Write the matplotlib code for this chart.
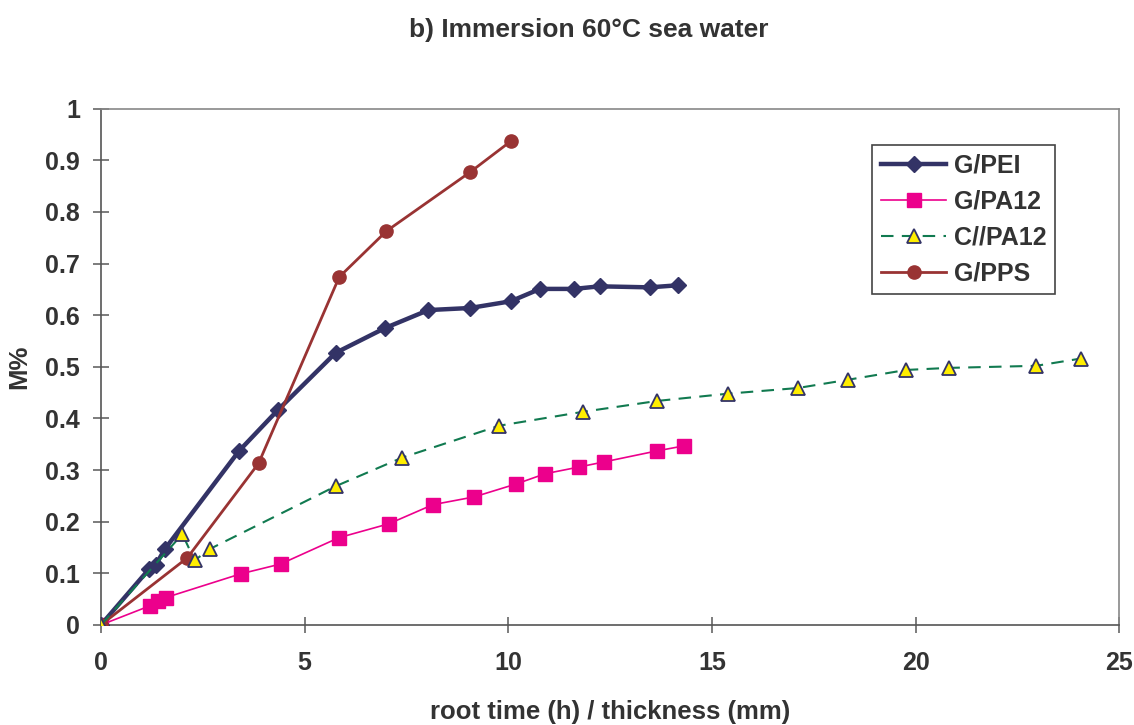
import numpy as np
import matplotlib
matplotlib.use("Agg")
import matplotlib.pyplot as plt

plt.rcParams['font.family'] = ['Liberation Sans', 'DejaVu Sans']

# G/PEI
pei_x = [0, 1.19, 1.35, 1.57, 3.39, 4.34, 5.76, 6.97, 8.04, 9.06, 10.06, 10.78, 11.62, 12.24, 13.47, 14.16]
pei_y = [0, 0.109, 0.117, 0.147, 0.337, 0.416, 0.527, 0.575, 0.610, 0.614, 0.627, 0.651, 0.651, 0.656, 0.654, 0.658]

# G/PA12
pa_x = [0, 1.20, 1.39, 1.59, 3.43, 4.41, 5.84, 7.07, 8.15, 9.16, 10.19, 10.91, 11.74, 12.36, 13.64, 14.32]
pa_y = [0, 0.037, 0.047, 0.053, 0.099, 0.118, 0.169, 0.196, 0.233, 0.248, 0.273, 0.293, 0.306, 0.316, 0.337, 0.347]

# C//PA12
cpa_x = [0, 2.00, 2.30, 2.67, 5.77, 7.39, 9.78, 11.84, 13.66, 15.39, 17.11, 18.34, 19.77, 20.82, 22.96, 24.05]
cpa_y = [0, 0.176, 0.125, 0.147, 0.269, 0.324, 0.386, 0.413, 0.434, 0.448, 0.459, 0.475, 0.494, 0.498, 0.502, 0.516]

# G/PPS
pps_x = [0, 2.12, 3.87, 5.85, 7.01, 9.06, 10.06]
pps_y = [0, 0.130, 0.313, 0.674, 0.763, 0.877, 0.937]

txt = '#333333'

fig = plt.figure(figsize=(11.34, 7.25), dpi=100)
ax = fig.add_axes([0.089, 0.138, 0.898, 0.712])

ax.plot(pei_x, pei_y, color='#333366', lw=3.2, marker='D', ms=8,
        label='G/PEI', zorder=4)
ax.plot(pa_x, pa_y, color='#ec008c', lw=1.2, marker='s', ms=10.5,
        label='G/PA12', zorder=3)
ax.plot(cpa_x, cpa_y, color='#117a50', lw=1.5, ls=(0, (6, 4)), marker='^', ms=10,
        markerfacecolor='#ffee00', markeredgecolor='#333366', markeredgewidth=1.3,
        label='C//PA12', zorder=5)
ax.plot(pps_x, pps_y, color='#993333', lw=2, marker='o', ms=9.5,
        label='G/PPS', zorder=4)

ax.set_xlim(0, 25)
ax.set_ylim(0, 1)
ax.set_xticks(np.arange(0, 26, 5))
ax.set_yticks(np.arange(0, 1.01, 0.1))
ax.set_yticklabels(['0', '0.1', '0.2', '0.3', '0.4', '0.5', '0.6', '0.7', '0.8', '0.9', '1'])

for s in ax.spines.values():
    s.set_color('#888888')
    s.set_linewidth(1.2)
ax.spines['left'].set_color('#555555')
ax.spines['bottom'].set_color('#555555')

ax.tick_params(direction='inout', length=12, width=1.2, color='#666666',
               labelsize=18, labelcolor=txt)
for lab in ax.get_xticklabels() + ax.get_yticklabels():
    lab.set_fontweight('bold')
ax.tick_params(axis='x', pad=13)
ax.tick_params(axis='y', pad=9)

ax.set_xlabel('root time (h) / thickness (mm)', fontsize=18.5, fontweight='bold',
              color=txt, labelpad=18)
ax.set_ylabel('M%', fontsize=18.5, fontweight='bold', color=txt, labelpad=10)

fig.suptitle('b) Immersion 60°C sea water', x=0.519, y=0.975, fontsize=19,
             fontweight='bold', color=txt)

leg = ax.legend(loc='upper right', bbox_to_anchor=(0.937, 0.930), fancybox=False,
                framealpha=1, edgecolor='#444444', prop={'weight': 'bold', 'size': 18},
                handlelength=2.6, borderpad=0.35, labelspacing=0.48, handletextpad=0.3,
                borderaxespad=0)
leg.get_frame().set_linewidth(1.2)
for t in leg.get_texts():
    t.set_color(txt)

fig.savefig('out.png', dpi=100)
